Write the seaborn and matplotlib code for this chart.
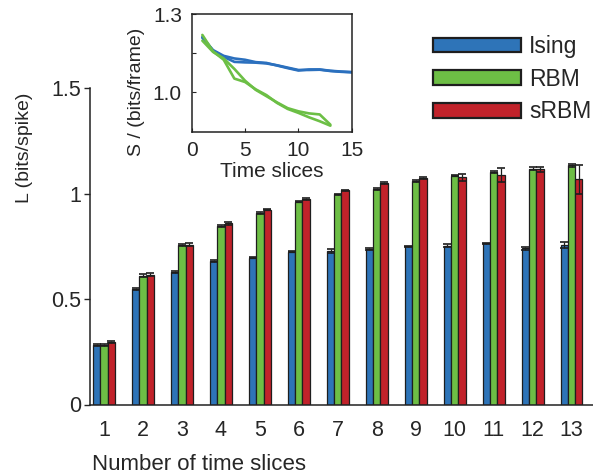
import numpy as np
import pandas as pd
import matplotlib
matplotlib.use("Agg")
import matplotlib.pyplot as plt
import seaborn as sns

# ---------------- data ----------------
slices = ["1", "2", "3", "4", "5", "6", "7", "8", "9", "10", "11", "12", "13"]
models = ["Ising", "RBM", "sRBM"]
ising = [0.281, 0.548, 0.627, 0.680, 0.696, 0.725, 0.726, 0.735, 0.749, 0.753, 0.764, 0.740, 0.756]
rbm = [0.281, 0.611, 0.755, 0.845, 0.908, 0.961, 0.996, 1.022, 1.058, 1.085, 1.103, 1.118, 1.133]
srbm = [0.297, 0.616, 0.758, 0.860, 0.924, 0.974, 1.015, 1.050, 1.074, 1.077, 1.088, 1.115, 1.068]
ising_err = [0.005, 0.005, 0.004, 0.004, 0.003, 0.004, 0.010, 0.005, 0.004, 0.007, 0.001, 0.008, 0.012]
rbm_err = [0.004, 0.007, 0.006, 0.004, 0.003, 0.003, 0.004, 0.006, 0.004, 0.004, 0.004, 0.006, 0.006]
srbm_err = [0.005, 0.006, 0.007, 0.007, 0.004, 0.003, 0.003, 0.004, 0.003, 0.017, 0.034, 0.012, 0.068]

inset_blue_x = [1, 2, 3, 4, 5, 6, 7, 8, 9, 10, 11, 12, 13, 14, 15]
ising_s_a = [1.209, 1.162, 1.140, 1.130, 1.125, 1.116, 1.113, 1.103, 1.093, 1.084, 1.088, 1.088, 1.083, 1.080, 1.078]
ising_s_b = [1.212, 1.160, 1.136, 1.117, 1.115, 1.114, 1.111, 1.104, 1.095, 1.086, 1.086, 1.087, 1.082, 1.079, 1.077]
inset_green_x = [1, 2, 3, 4, 5, 6, 7, 8, 9, 10, 11, 12, 13]
rbm_s_a = [1.220, 1.157, 1.125, 1.053, 1.040, 1.012, 0.990, 0.960, 0.937, 0.922, 0.905, 0.890, 0.873]
rbm_s_b = [1.198, 1.155, 1.130, 1.090, 1.045, 1.010, 0.986, 0.962, 0.940, 0.928, 0.920, 0.916, 0.877]

colors = {"Ising": "#2E74B8", "RBM": "#6DBE45", "sRBM": "#C1222A"}

# ---------------- style ----------------
sns.set_style("ticks")
plt.rcParams["font.family"] = ["Liberation Sans", "DejaVu Sans"]
plt.rcParams["axes.edgecolor"] = "#222222"
plt.rcParams["axes.linewidth"] = 1.1

df = pd.DataFrame({
    "slices": slices * 3,
    "model": [m for m in models for _ in slices],
    "L": ising + rbm + srbm,
})
errs = {"Ising": ising_err, "RBM": rbm_err, "sRBM": srbm_err}

fig = plt.figure(figsize=(5.93, 4.76), dpi=100)
ax = fig.add_axes([90 / 593, 1 - 404.5 / 476, 503 / 593, (404.5 - 88) / 476])

sns.barplot(data=df, x="slices", y="L", hue="model", order=slices, hue_order=models,
            palette=colors, width=0.56, errorbar=None, edgecolor="#1e1e1e",
            linewidth=0.9, saturation=1, ax=ax)

# error bars at the bar tops, positions taken from the drawn bars
for cont, m in zip(ax.containers, models):
    xs = [p.get_x() + p.get_width() / 2 for p in cont.patches]
    hs = [p.get_height() for p in cont.patches]
    ax.errorbar(xs, hs, yerr=errs[m], fmt="none", ecolor="#1e1e1e",
                elinewidth=0.9, capsize=2.6, capthick=1.2, zorder=5)

ax.set_ylim(0, 1.5)
ax.set_xlim(-0.36, 12.55)
ax.set_yticks([0, 0.5, 1, 1.5])
ax.set_yticklabels(["0", "0.5", "1", "1.5"])
ax.tick_params(axis="y", direction="out", length=4, width=1.0, pad=2.5, labelsize=15.5)
ax.tick_params(axis="x", length=0, pad=11, labelsize=15.5)
sns.despine(ax=ax)
ax.set_ylabel("L (bits/spike)", fontsize=14)
ax.yaxis.set_label_coords(-0.113, 0.81)
ax.set_xlabel("Number of time slices", fontsize=16, loc="left")
ax.xaxis.set_label_coords(0.003, -0.155)

handles, labels = ax.get_legend_handles_labels()
leg = ax.legend(handles, labels, loc="upper left",
                bbox_to_anchor=(433 / 593, 1 - 35 / 476), bbox_transform=fig.transFigure,
                frameon=False, fontsize=16.5, handlelength=3.85, handleheight=0.62,
                handletextpad=0.35, labelspacing=0.42, borderpad=0, borderaxespad=0)
for h in leg.legend_handles:
    h.set_edgecolor("#1e1e1e")
    h.set_linewidth(1.6)

# ---------------- inset ----------------
axi = fig.add_axes([191.7 / 593, 1 - 131.7 / 476, 160 / 593, 117.7 / 476])
for ys in (ising_s_a, ising_s_b):
    sns.lineplot(x=inset_blue_x, y=ys, color="#2B70BE", linewidth=1.9, ax=axi)
for ys in (rbm_s_a, rbm_s_b):
    sns.lineplot(x=inset_green_x, y=ys, color="#6CBF45", linewidth=1.9, ax=axi)
axi.set_xlim(0, 15)
axi.set_ylim(0.85, 1.3)
axi.set_xticks([0, 5, 10, 15])
axi.set_yticks([1.0, 1.15, 1.3])
axi.set_yticklabels(["1.0", "", "1.3"])
axi.tick_params(direction="in", length=3, width=0.8, pad=7, labelsize=15)
for s in axi.spines.values():
    s.set_linewidth(1.1)
axi.set_xlabel("Time slices", fontsize=15, labelpad=1)
axi.set_ylabel("S / (bits/frame)", fontsize=14)
axi.yaxis.set_label_coords(-0.29, 0.34)

fig.savefig("out.png", dpi=100)
